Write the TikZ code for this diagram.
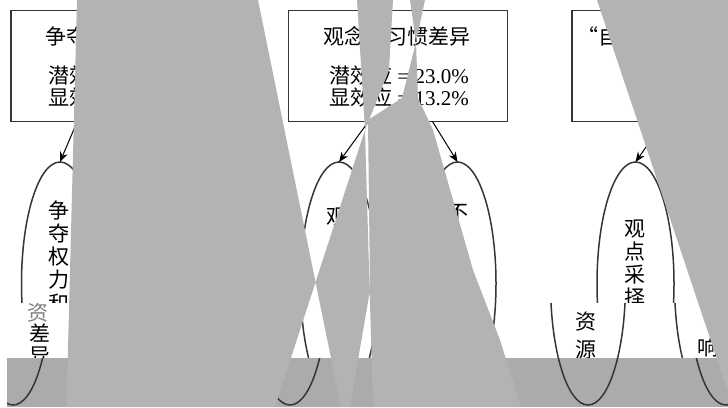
\documentclass[tikz,border=0pt]{standalone}
\usepackage{fontspec}
\setmainfont{Liberation Serif}
\newfontfamily\cjk{Noto Sans CJK SC}
\usetikzlibrary{arrows.meta,calc,shapes.geometric}
\definecolor{edgecol}{HTML}{353535}
\definecolor{occl}{HTML}{B3B3B3}
\definecolor{stripgray}{HTML}{ABABAB}
\tikzset{
  box/.style={draw=edgecol,line width=1.8pt,minimum width=219pt,minimum height=111pt,inner sep=0pt,outer sep=0pt},
  oval/.style={draw=edgecol,line width=1.5pt,ellipse,minimum width=77pt,minimum height=243pt,inner sep=0pt,outer sep=0pt},
  lbl/.style={font=\cjk\fontsize{21}{23.5}\selectfont,inner sep=0pt,text=black},
  mixlbl/.style={font=\fontsize{21}{23.5}\selectfont,inner sep=0pt,text=black},
  arr/.style={draw=black,line width=1pt,-{Stealth[length=10pt,width=8pt]}},
  stripline/.style={draw=edgecol,line width=1.5pt},
}
\begin{document}
\begin{tikzpicture}[x=1pt,y=-1pt]
\useasboundingbox (0,0) rectangle (728,407);
\fill[white] (0,0) rectangle (728,407);
\begin{scope}
\clip (0,0) rectangle (728,407);
% ---------- boxes
\node[box] (b1) at (120.5,66) {};
\node[box] (b2) at (398,66) {};
\node[box,minimum width=265pt] (b3) at (704.5,66) {};
% box 1 texts (visible parts)
\node[lbl,anchor=west] (b1t) at (45,36) {争夺};
\node[lbl,anchor=west] (b1a) at (48,76) {潜效};
\node[lbl,anchor=west] (b1b) at (48,97.5) {显效};
% box 2 texts
\node[lbl] (b2t) at (397,36) {观念和习惯差异};
\node[mixlbl] (b2a) at (399,76) {{\cjk 潜效应} = 23.0\%};
\node[mixlbl] (b2b) at (399,97.5) {{\cjk 显效应} = 13.2\%};
% box 3 text
\node[lbl,anchor=west] (b3t) at (577,36) {“自};
% ---------- ovals
\node[oval] (e1) at (60,283.5) {};
\node[oval] (e2) at (339,283.5) {};
\node[oval] (e3) at (457.5,283.5) {};
\node[oval] (e4) at (635.5,283.5) {};
% oval texts
\foreach \c [count=\i] in {争,夺,权,力,和}
  \node[lbl] (t1-\i) at (59,{210+23.3*(\i-1)}) {\c};
\node[lbl] (t2-1) at (337,217) {观};
\node[lbl] (t3-1) at (458,213) {不};
\foreach \c [count=\i] in {观,点,采,择}
  \node[lbl] (t4-\i) at (635,{229+23*(\i-1)}) {\c};
% ---------- arrows
\draw[arr] ($(b1.south west)!0.3024!(b1.south east)$) -- (e1.north);
\draw[arr] ($(b2.south west)!0.3653!(b2.south east)$) -- (e2.north);
\draw[arr] ($(b2.south west)!0.6575!(b2.south east)$) -- (e3.north);
\draw[arr] ($(b3.south west)!0.3472!(b3.south east)$) -- (e4.north);
% ---------- middle strip (displaced band)
\fill[white] (7,303) rectangle (76,358);
\fill[white] (505,303) rectangle (728,358);
\begin{scope}
  \clip (7,303) rectangle (728,358);
  \node[lbl,text=gray] (s1) at (38,313) {资};
  \node[lbl] (s2) at (40,333) {差};
  \node[lbl] (s3) at (40,356) {异};
  \draw[stripline] (588,283.5) ellipse [x radius=37.5,y radius=121.5];
  \draw[stripline] (712,283.5) ellipse [x radius=37.5,y radius=121.5];
  \node[lbl] (s4) at (586,322) {资};
  \node[lbl] (s5) at (586,350) {源};
  \node[lbl] (s6) at (708,347) {响};
\end{scope}
% ---------- bottom strip (tinted band)
\fill[stripgray] (7,358) rectangle (728,407);
\begin{scope}
  \clip (7,358) rectangle (728,407);
  \foreach \cx in {13,290,588,726}
    \draw[stripline] (\cx,283.5) ellipse [x radius=37.5,y radius=121.5];
\end{scope}
% ---------- occluding wedges (even-odd: overlaps are holes)
\fill[occl,even odd rule]
  (77,0) -- (258,0) -- (341,407) -- (66.5,407) -- cycle
  (357,0) -- (393,0) -- (389,70) -- (365,130) -- cycle
  (365,130) -- (373,407) -- (275,407) -- cycle
  (410,0) -- (425,0) -- (416,42) -- cycle
  (416,42) -- (418,98) -- (433,130) -- (473,270) -- (500,340) -- (521,407)
     -- (350,407) -- (370,290) -- (368,120) -- (402,98) -- cycle
  (597,0) -- (745,0) -- (745,443) -- cycle;
\end{scope}
\end{tikzpicture}
\end{document}
